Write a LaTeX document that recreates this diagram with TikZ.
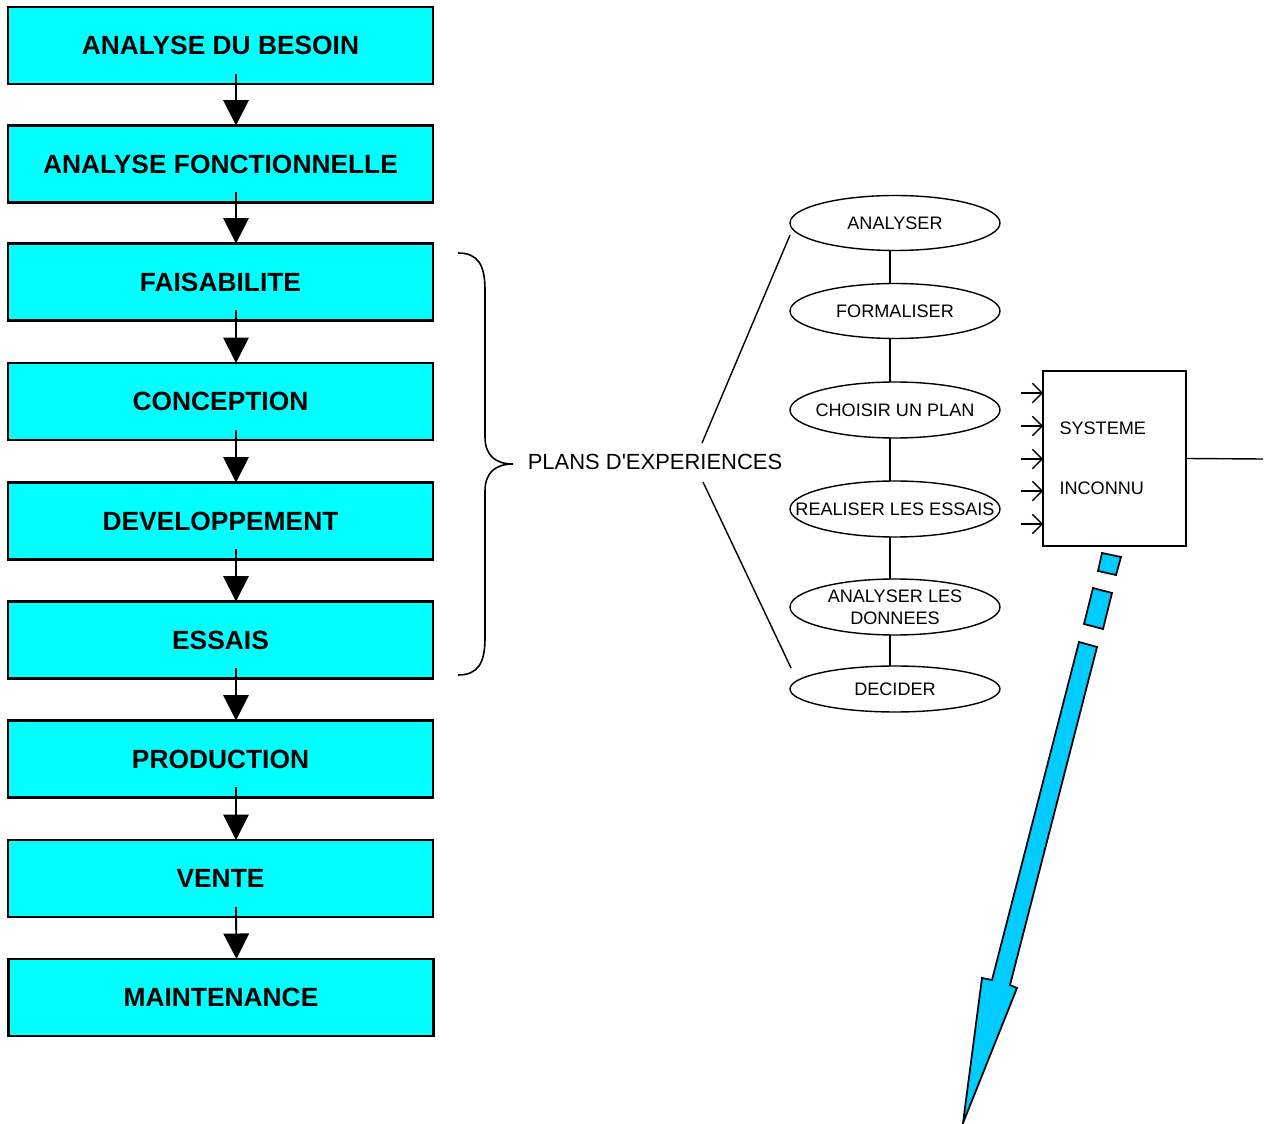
\documentclass[tikz,border=0pt]{standalone}
\usepackage{fontspec}
\setmainfont{Liberation Sans}
\usetikzlibrary{shapes.geometric,arrows.meta,calc}
\definecolor{stagecyan}{RGB}{0,255,255}
\definecolor{arrowblue}{RGB}{0,204,255}
\begin{document}
\begin{tikzpicture}[x=0.02cm,y=-0.02cm,
  stagebox/.style={draw=black,line width=1.2pt,fill=stagecyan,minimum width=8.5cm,
    minimum height=1.54cm,inner sep=0pt,outer sep=0pt,
    font=\fontsize{15}{17}\selectfont\bfseries},
  flow/.style={line width=1.1pt,-{Triangle[length=14.5pt,width=14.5pt]}},
  stepoval/.style={draw,ellipse,line width=0.8pt,minimum width=4.2cm,minimum height=1.1cm,
    inner xsep=-1cm,inner ysep=-0.2cm,outer sep=0pt,
    font=\fontsize{10.3}{12.5}\selectfont,align=center},
  link/.style={line width=0.8pt},
  inarrow/.style={line width=0.8pt,-{Straight Barb[length=5.5pt,width=11pt]}},
  sysbox/.style={draw,line width=1pt,minimum width=2.86cm,minimum height=3.5cm,
    inner sep=0pt,outer sep=0pt,align=left,text width=2.2cm,
    font=\fontsize{10.3}{34}\selectfont},
  blueshape/.style={fill=arrowblue,draw=black,line width=1pt,line join=miter}
]
\useasboundingbox (0,0) rectangle (1271,1124);

% product life-cycle stages
\node[stagebox] (b1) at (220.5,45.5)  {ANALYSE DU BESOIN};
\node[stagebox] (b2) at (220.5,164)   {ANALYSE FONCTIONNELLE};
\node[stagebox] (b3) at (220.5,282)   {FAISABILITE};
\node[stagebox] (b4) at (220.5,401.5) {CONCEPTION};
\node[stagebox] (b5) at (220.5,521)   {DEVELOPPEMENT};
\node[stagebox] (b6) at (220.5,640)   {ESSAIS};
\node[stagebox] (b7) at (220.5,759)   {PRODUCTION};
\node[stagebox] (b8) at (220.5,878.5) {VENTE};
\node[stagebox] (b9) at (221,997.5)   {MAINTENANCE};

\foreach \a/\b in {b1/b2,b2/b3,b3/b4,b4/b5,b5/b6,b6/b7,b7/b8,b8/b9}
  \draw[flow] ([xshift=0.31cm,yshift=0.2cm]\a.south) -- ([xshift=0.31cm]\b.north);

% brace grouping FAISABILITE .. ESSAIS
\draw[line width=0.9pt] (458,253) .. controls (478,253) and (485,265) .. (485,290)
  -- (485,437) .. controls (485,455) and (495,464) .. (513,464)
  .. controls (495,464) and (485,473) .. (485,491)
  -- (485,638) .. controls (485,663) and (478,675) .. (458,675);

\node[font=\fontsize{12.5}{14}\selectfont,inner sep=0pt] (plans) at (655,462)
  {PLANS D\textquotesingle EXPERIENCES};

% steps of a design of experiments
\node[stepoval] (e1) at (895,223) {ANALYSER};
\node[stepoval] (e2) at (895,311) {FORMALISER};
\node[stepoval,minimum height=1.12cm] (e3) at (895,410) {CHOISIR UN PLAN};
\node[stepoval,minimum height=1.12cm] (e4) at (895,509) {REALISER LES ESSAIS};
\node[stepoval,minimum height=1.12cm] (e5) at (895,607) {ANALYSER LES\\DONNEES};
\node[stepoval,minimum height=0.92cm] (e6) at (895,689) {DECIDER};

\foreach \a/\b in {e1/e2,e2/e3,e3/e4,e4/e5,e5/e6}
  \draw[link] ([xshift=-0.1cm]\a.south) -- ([xshift=-0.1cm]\b.north);

\coordinate (pU) at (702,443);
\coordinate (pD) at (703,482);
\coordinate (eU) at ($(e1.west)+(0,12)$);
\coordinate (eD) at ($(e6.west)+(1,-21)$);
\draw[link] (pU) -- (eU);
\draw[link] (pD) -- (eD);

% unknown system with its inputs and output
\node[sysbox] (sys) at (1114.5,458.5) {SYSTEME\\INCONNU};
\foreach \dy in {22,55,88,120,153}
  \draw[inarrow] ($(sys.north west)+(-22,\dy)$) coordinate (in\dy) -- ($(sys.north west)+(0,\dy)$);
\coordinate (out) at (1263,459);
\draw[link] (sys.east) -- (out);

% dashed blue arrow
\draw[blueshape] (1102,553) -- (1121,557) -- (1116,575) -- (1098,571) -- cycle;
\draw[blueshape] (1093,588) -- (1112,593) -- (1103,629) -- (1084,624) -- cycle;
\draw[blueshape] (1079,642) -- (1097,647) -- (1010,985) -- (1017,988) -- (963,1123)
  -- (982,978) -- (992,980) -- cycle;
\end{tikzpicture}
\end{document}
